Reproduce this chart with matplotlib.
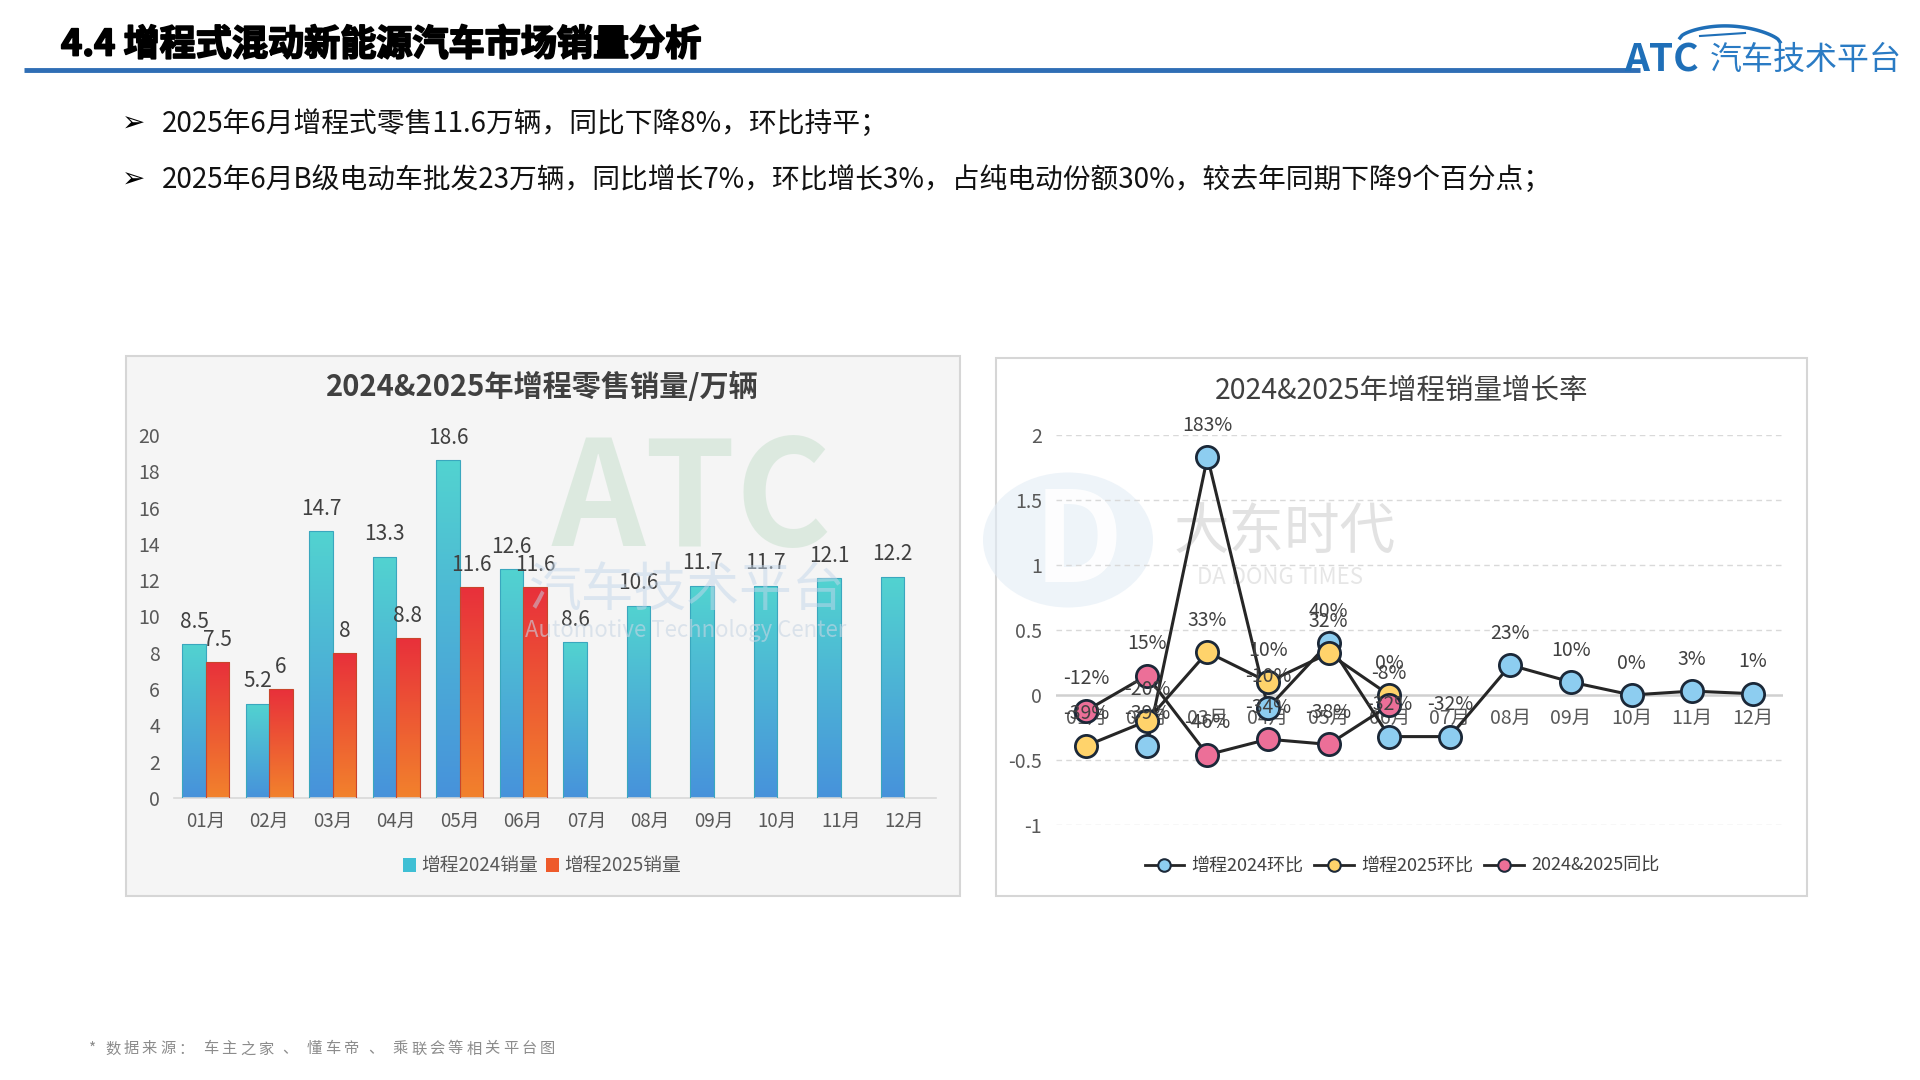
import numpy as np
import matplotlib
matplotlib.use('Agg')
import matplotlib.pyplot as plt
import matplotlib.patheffects as pe
from matplotlib.colors import LinearSegmentedColormap
from matplotlib.patches import Rectangle, Patch, Ellipse
from matplotlib.lines import Line2D

plt.rcParams['font.family'] = ['Noto Sans CJK SC', 'DejaVu Sans']

# ---- data ----
months = ['01月', '02月', '03月', '04月', '05月', '06月',
          '07月', '08月', '09月', '10月', '11月', '12月']
sales_2024 = [8.5, 5.2, 14.7, 13.3, 18.6, 12.6, 8.6, 10.6, 11.7, 11.7, 12.1, 12.2]
sales_2025 = [7.5, 6, 8, 8.8, 11.6, 11.6]
bar_yticks = list(range(0, 21, 2))

mom_2024 = [np.nan, -0.39, 1.83, -0.10, 0.40, -0.32, -0.32, 0.23, 0.10, 0.00, 0.03, 0.01]
mom_2025 = [-0.39, -0.20, 0.33, 0.10, 0.32, 0.00]
yoy = [-0.12, 0.15, -0.46, -0.34, -0.38, -0.08]
line_yticks = [-1, -0.5, 0, 0.5, 1, 1.5, 2]
line_ytick_labels = ['-1', '-0.5', '0', '0.5', '1', '1.5', '2']

bullets = [
    '2025年6月增程式零售11.6万辆，同比下降8%，环比持平；',
    '2025年6月B级电动车批发23万辆，同比增长7%，环比增长3%，占纯电动份额30%，较去年同期下降9个百分点；',
]
source_note = '* 数据来源： 车主之家 、 懂车帝 、 乘联会等相关平台图'

W, H = 1920, 1080
fig = plt.figure(figsize=(19.2, 10.8), dpi=100)
fig.patch.set_facecolor('white')

# background layer in pixel coordinates for decorations
bg = fig.add_axes([0, 0, 1, 1])
bg.set_xlim(0, W)
bg.set_ylim(H, 0)
bg.axis('off')
bg.set_zorder(-1)

# header
bg.text(61, 45, '4.4 增程式混动新能源汽车市场销量分析', fontsize=26, fontweight='bold',
        color='black', va='center', ha='left',
        path_effects=[pe.withStroke(linewidth=1.3, foreground='black')])
bg.plot([24, 1640], [70, 70], color='#2F6EB5', lw=3.5, solid_capstyle='butt')
# logo
bg.text(1624, 60, 'ATC', fontsize=28, fontweight='heavy', fontstyle='italic',
        color='#1F6FB8', va='center', ha='left')
bg.text(1710, 60, '汽车技术平台', fontsize=23, color='#2A7BC4', va='center', ha='left')
t = np.linspace(0, 1, 50)
sx = 1680 + 100 * t
sy = 38 - 14 * np.sin(np.pi * t) ** 0.6 + 4 * t
bg.plot(sx, sy, color='#1F6FB8', lw=2.5)
bg.plot([1700, 1745], [36, 33], color='#1F6FB8', lw=1.5)

# bullets
for k, line in enumerate(bullets):
    y = 124 + 56 * k
    bg.text(122, y, '➢', fontsize=20, color='black', va='center', ha='left',
            family=['DejaVu Sans'])
    bg.text(162, y, line, fontsize=20, color='#111111', va='center', ha='left')

# footnote, letter-spaced like the reference
px = 89
for ch in source_note:
    if ch == ' ':
        px += 6
        continue
    bg.text(px, 1049, ch, fontsize=11, color='#8C8C8C', va='center', ha='left')
    px += 10 if ch == '*' else 18.4

# panels
bg.add_patch(Rectangle((126, 356), 834, 540, facecolor='#F5F5F5', edgecolor='#D6D6D6', lw=1.5))
bg.add_patch(Rectangle((996, 358), 811, 538, facecolor='white', edgecolor='#D6D6D6', lw=1.5))

# right panel watermark (behind)
bg.add_patch(Ellipse((1068, 540), 170, 135, facecolor='#E3EDF6', edgecolor='none', alpha=0.6))
bg.text(1078, 545, 'D', fontsize=90, fontweight='bold', fontstyle='italic',
        color='white', ha='center', va='center', alpha=0.9)
bg.text(1285, 533, '大东时代', fontsize=40, color='#E2E2E2', ha='center', va='center')
bg.text(1280, 577, 'DA DONG TIMES', fontsize=16, color='#E6E6E6', ha='center', va='center')

# ---- bar chart ----
ax1 = fig.add_axes([174 / W, 1 - 798 / H, 762 / W, 363 / H])
ax1.set_facecolor('none')
x = np.arange(len(months))
w = 0.37
cmap_b = LinearSegmentedColormap.from_list('b', ['#4792DB', '#52D3D0'])
cmap_r = LinearSegmentedColormap.from_list('r', ['#F2822C', '#E8303B'])
bars_b = ax1.bar(x - w / 2, sales_2024, w, facecolor='none', edgecolor='#3AA7BE', lw=0.8, zorder=3)
bars_r = ax1.bar(np.arange(len(sales_2025)) + w / 2, sales_2025, w, facecolor='none',
                 edgecolor='#C9452C', lw=0.8, zorder=3)
grad = np.linspace(0, 1, 256).reshape(-1, 1)
for bars, cm in ((bars_b, cmap_b), (bars_r, cmap_r)):
    for rect in bars:
        x0, bw, bh = rect.get_x(), rect.get_width(), rect.get_height()
        im = ax1.imshow(grad, extent=[x0, x0 + bw, 0, bh], origin='lower',
                        aspect='auto', cmap=cm, zorder=2)
        im.set_clip_path(rect)
        ax1.annotate(f'{bh:g}', (x0 + bw / 2, bh), xytext=(0, 16), textcoords='offset points',
                     ha='center', va='center', fontsize=15, color='#404040', zorder=5)
ax1.set_xlim(-0.5, len(months) - 0.5)
ax1.set_ylim(0, 20)
ax1.set_yticks(bar_yticks)
ax1.set_xticks(x)
ax1.set_xticklabels(months)
for s in ('top', 'right', 'left'):
    ax1.spines[s].set_visible(False)
ax1.spines['bottom'].set_color('#D9D9D9')
ax1.spines['bottom'].set_linewidth(1.2)
ax1.tick_params(axis='both', length=0, labelsize=13.5, colors='#595959')
ax1.tick_params(axis='y', pad=10, labelsize=14)
ax1.tick_params(axis='x', pad=9)

fig.text(542 / W, 1 - 387 / H, '2024&2025年增程零售销量/万辆', fontsize=21, fontweight='bold',
         color='#404040', ha='center', va='center')
fig.legend([Patch(facecolor='#3FBFD4'), Patch(facecolor='#EE5A2A')],
           ['增程2024销量', '增程2025销量'], loc='center',
           bbox_to_anchor=(542 / W, 1 - 866 / H), ncol=2, frameon=False, fontsize=13.5,
           handlelength=0.7, handleheight=0.7, columnspacing=0.4, handletextpad=0.3,
           labelcolor='#595959')

# left watermark (semi-transparent over bars)
fig.text(692 / W, 1 - 503 / H, 'ATC', fontsize=105, fontweight='heavy', fontstyle='italic',
         color='#BFDCC6', alpha=0.45, ha='center', va='center')
fig.text(686 / W, 1 - 590 / H, '汽车技术平台', fontsize=38, color='#C3D6EA', alpha=0.5,
         ha='center', va='center')
fig.text(686 / W, 1 - 631 / H, 'Automotive Technology Center', fontsize=16, color='#C9D6E4',
         alpha=0.6, ha='center', va='center')

# ---- line chart ----
ax2 = fig.add_axes([1056 / W, 1 - 825 / H, 727 / W, 390 / H])
ax2.set_facecolor('none')
ax2.set_xlim(-0.5, len(months) - 0.5)
ax2.set_ylim(-1, 2)
for tv in line_yticks:
    if tv == 0:
        ax2.axhline(tv, color='#D0D0D0', lw=1.8, zorder=0)
    else:
        ax2.axhline(tv, color='#D9D9D9', lw=1, ls=(0, (4, 3)), zorder=0)
ax2.set_yticks(line_yticks)
ax2.set_yticklabels(line_ytick_labels)
ax2.set_xticks([])
for s in ax2.spines.values():
    s.set_visible(False)
ax2.tick_params(axis='y', length=0, labelsize=14, colors='#595959', pad=10)

for i, m in enumerate(months):
    ax2.annotate(m, (i, 0), xytext=(0, -17), textcoords='offset points', ha='center',
                 va='center', fontsize=14, color='#595959', zorder=1)

series = [
    (mom_2024, '#8DCDF0', '增程2024环比'),
    (mom_2025, '#FFD36B', '增程2025环比'),
    (yoy, '#EC6F98', '2024&2025同比'),
]
handles = []
for z, (vals, col, name) in enumerate(series):
    xs = np.arange(len(vals))
    ax2.plot(xs, vals, color='#262626', lw=2.2, marker='o', ms=16, mfc=col,
             mec='#1B2838', mew=2, zorder=3 + z)
    for xi, v in zip(xs, vals):
        if np.isnan(v):
            continue
        ax2.annotate(f'{round(v * 100):d}%', (xi, v), xytext=(0, 23), textcoords='offset points',
                     ha='center', va='center', fontsize=14, color='#404040', zorder=10)
    handles.append(Line2D([0], [0], color='#262626', lw=2, marker='o', ms=9, mfc=col,
                          mec='#1B2838', mew=1.5))

fig.text(1402 / W, 1 - 391 / H, '2024&2025年增程销量增长率', fontsize=20.5,
         color='#404040', ha='center', va='center')
fig.legend(handles, [s[2] for s in series], loc='center',
           bbox_to_anchor=(1402 / W, 1 - 866 / H), ncol=3, frameon=False, fontsize=13,
           handlelength=2.2, columnspacing=0.6, handletextpad=0.4, labelcolor='#404040')

fig.savefig('out.png', dpi=100)
